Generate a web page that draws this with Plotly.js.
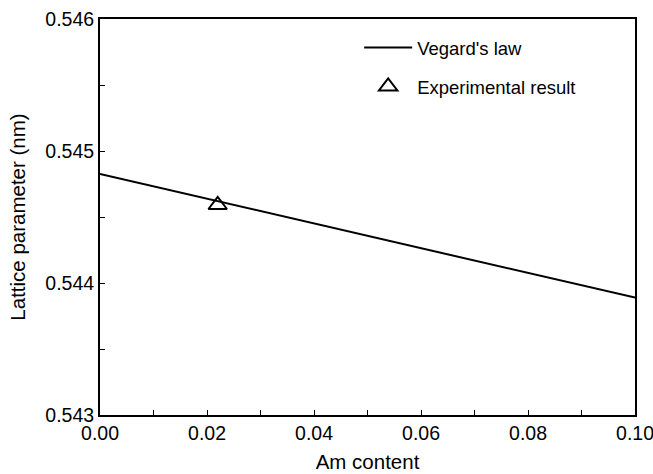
<!DOCTYPE html>
<html><head><meta charset="utf-8">
<script src="https://cdn.plot.ly/plotly-3.0.1.min.js"></script>
<style>body{margin:0;background:#fff}#chart{width:653px;height:474px}</style>
</head><body><div id="chart"></div>
<script>
var vegardX = [0.0, 0.1];
var vegardY = [0.544826, 0.543889];
var expX = [0.022];
var expY = [0.544591];
var xTickVals = [0, 0.02, 0.04, 0.06, 0.08, 0.10];
var xTickText = ['0.00', '0.02', '0.04', '0.06', '0.08', '0.10'];
var yTickVals = [0.543, 0.544, 0.545, 0.546];
var yTickText = ['0.543', '0.544', '0.545', '0.546'];

var font = 'Liberation Sans, Arial, Helvetica, sans-serif';
var traces = [
  {x: vegardX, y: vegardY, mode: 'lines', name: "Vegard's law", legendgroup: 'a',
   line: {color: '#000', width: 2}},
  {x: expX, y: expY, mode: 'markers', name: 'Experimental result', legendgroup: 'b',
   marker: {symbol: 'triangle-up-open', size: 16, color: '#000', line: {width: 2, color: '#000'}}}
];
var layout = {
  width: 653, height: 474,
  margin: {l: 100, r: 18, t: 19, b: 59},
  paper_bgcolor: '#fff', plot_bgcolor: '#fff',
  font: {family: font, size: 18, color: '#000'},
  showlegend: true,
  legend: {x: 0.4844, y: 0.975, xanchor: 'left', yanchor: 'top', bgcolor: 'rgba(0,0,0,0)',
           tracegroupgap: 12, itemwidth: 48, font: {size: 18.5}},
  xaxis: {range: [0, 0.1], tickvals: xTickVals, ticktext: xTickText,
          ticks: 'inside', ticklen: 5, tickwidth: 1, tickcolor: '#000', ticklabeloverflow: 'allow',
          minor: {tickvals: [0.01, 0.03, 0.05, 0.07, 0.09], ticks: 'inside', ticklen: 5, tickwidth: 1, tickcolor: '#000'},
          showline: true, linewidth: 2, linecolor: '#000', mirror: true,
          showgrid: false, zeroline: false, tickfont: {size: 19.5},
          title: {text: 'Am content', font: {size: 20.5}, standoff: 11}},
  yaxis: {range: [0.543, 0.546], tickvals: yTickVals, ticktext: yTickText,
          ticks: 'inside', ticklen: 5, tickwidth: 1, tickcolor: '#000', ticklabeloverflow: 'allow',
          minor: {tickvals: [0.5435, 0.5445, 0.5455], ticks: 'inside', ticklen: 5, tickwidth: 1, tickcolor: '#000'},
          showline: true, linewidth: 2, linecolor: '#000', mirror: true,
          showgrid: false, zeroline: false, tickfont: {size: 19.5},
          title: {text: 'Lattice parameter (nm)', font: {size: 20.5}, standoff: 14}}
};
Plotly.newPlot('chart', traces, layout, {displayModeBar: false, staticPlot: true});
</script></body></html>
